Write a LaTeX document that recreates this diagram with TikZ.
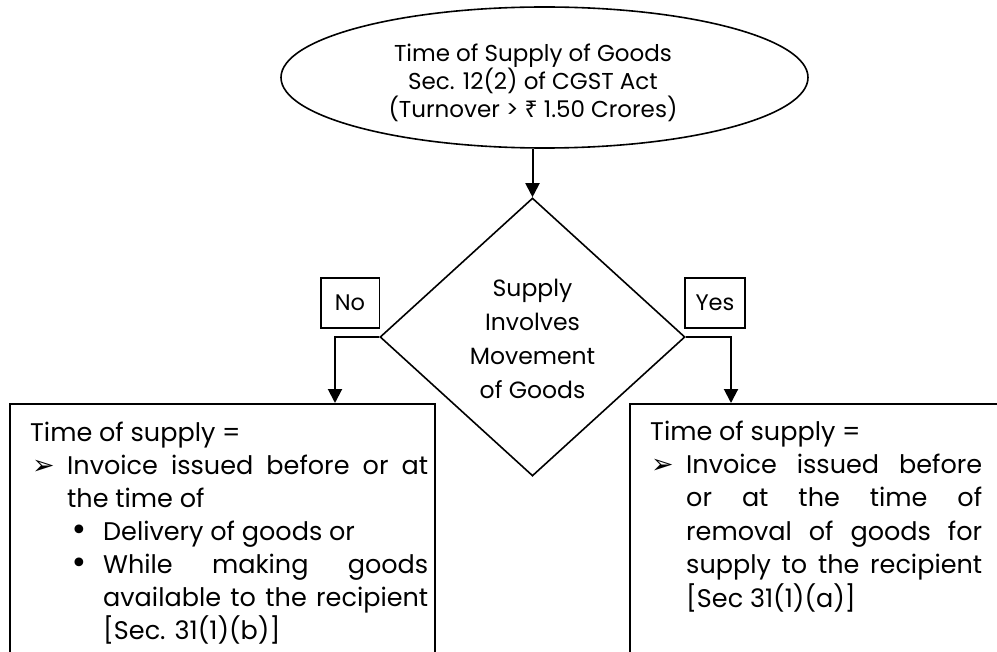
\documentclass[tikz,border=0pt]{standalone}
\usepackage{fontspec}
\setmainfont{Poppins}
\newfontfamily\symfont{DejaVu Sans}
\newfontfamily\rupfont{Noto Sans}
\usetikzlibrary{shapes.geometric,arrows.meta}
\newcommand{\arrbul}{{\symfont\fontsize{27bp}{27bp}\selectfont ➢}}
\newcommand{\dotbul}{{\symfont\fontsize{30bp}{30bp}\selectfont •}}
\begin{document}
\begin{tikzpicture}[x=1bp,y=-1bp]
\tikzset{
  shp/.style={draw=black, line width=1.6bp, inner sep=0pt},
  arr/.style={draw=black, line width=2bp, -{Triangle[length=14bp,width=14bp]}},
  lbl/.style={shp, rectangle, font=\fontsize{22.5bp}{26bp}\selectfont},
  txt/.style={inner sep=0pt, anchor=base},
  boxtxt/.style={inner sep=0pt, anchor=base west},
}
\useasboundingbox (0,0) rectangle (997,652);
\clip (0,0) rectangle (997,652);
\fill[white] (0,0) rectangle (997,652);

% ellipse
\node[shp, ellipse, minimum width=527bp, minimum height=141bp] (ell) at (544.5,77.5) {};
\node[txt] (ellt) at (533,62) {\parbox[t]{460bp}{\centering\fontsize{23bp}{28bp}\selectfont
Time of Supply of Goods\\Sec. 12(2) of CGST Act\\(Turnover > {\rupfont ₹} 1.50 Crores)}};

% diamond
\node[shp, diamond, minimum width=305bp, minimum height=278bp] (dia) at (532.5,337) {};
\node[txt] (diat) at (532.5,296) {\parbox[t]{200bp}{\centering\fontsize{23.5bp}{34bp}\selectfont
Supply\\Involves\\Movement\\of Goods}};

% labels
\node[lbl, minimum width=58.6bp, minimum height=50bp] (no) at (350,303) {No};
\node[lbl, minimum width=60bp, minimum height=50bp] (yes) at (715,303) {Yes};

% result boxes
\node[shp, rectangle, anchor=north west, minimum width=425bp, minimum height=300bp] (lbox) at (9,403) {};
\node[shp, rectangle, anchor=north west, minimum width=400bp, minimum height=300bp] (rbox) at (629,403) {};

\node[boxtxt] (ltext) at (30,441) {\parbox[t]{398bp}{\fontsize{25.5bp}{33bp}\selectfont
\hyphenpenalty=10000 \exhyphenpenalty=10000 \tolerance=10000
Time of supply =\par
{\leftskip=37bp \noindent\llap{\makebox[35bp][l]{\arrbul}}Invoice issued before or at\linebreak{} the time of\par}
{\leftskip=73bp \noindent\llap{\makebox[33bp][l]{\dotbul}}Delivery of goods or\par}
{\leftskip=73bp \noindent\llap{\makebox[33bp][l]{\dotbul}}While making goods\linebreak{} available to the recipient\linebreak{}[Sec. 31(1)(b)]\par}
}};

\node[boxtxt] (rtext) at (650,440) {\parbox[t]{332bp}{\fontsize{25.5bp}{33.4bp}\selectfont
\hyphenpenalty=10000 \exhyphenpenalty=10000 \tolerance=10000
Time of supply =\par
{\leftskip=36bp \noindent\llap{\makebox[35bp][l]{\arrbul}}Invoice issued before\linebreak{} or at the time of\linebreak{} removal of goods for\linebreak{} supply to the recipient\linebreak{}[Sec 31(1)(a)]\par}
}};

% connectors
\coordinate (lturn) at (335,337);
\coordinate (rturn) at (731,337);
\draw[arr] (dia.north |- ell.south) -- (dia.north);
\draw[arr] (dia.west) -- (lturn) -- (lturn |- lbox.north);
\draw[arr] (dia.east) -- (rturn) -- (rturn |- rbox.north);
\end{tikzpicture}
\end{document}
